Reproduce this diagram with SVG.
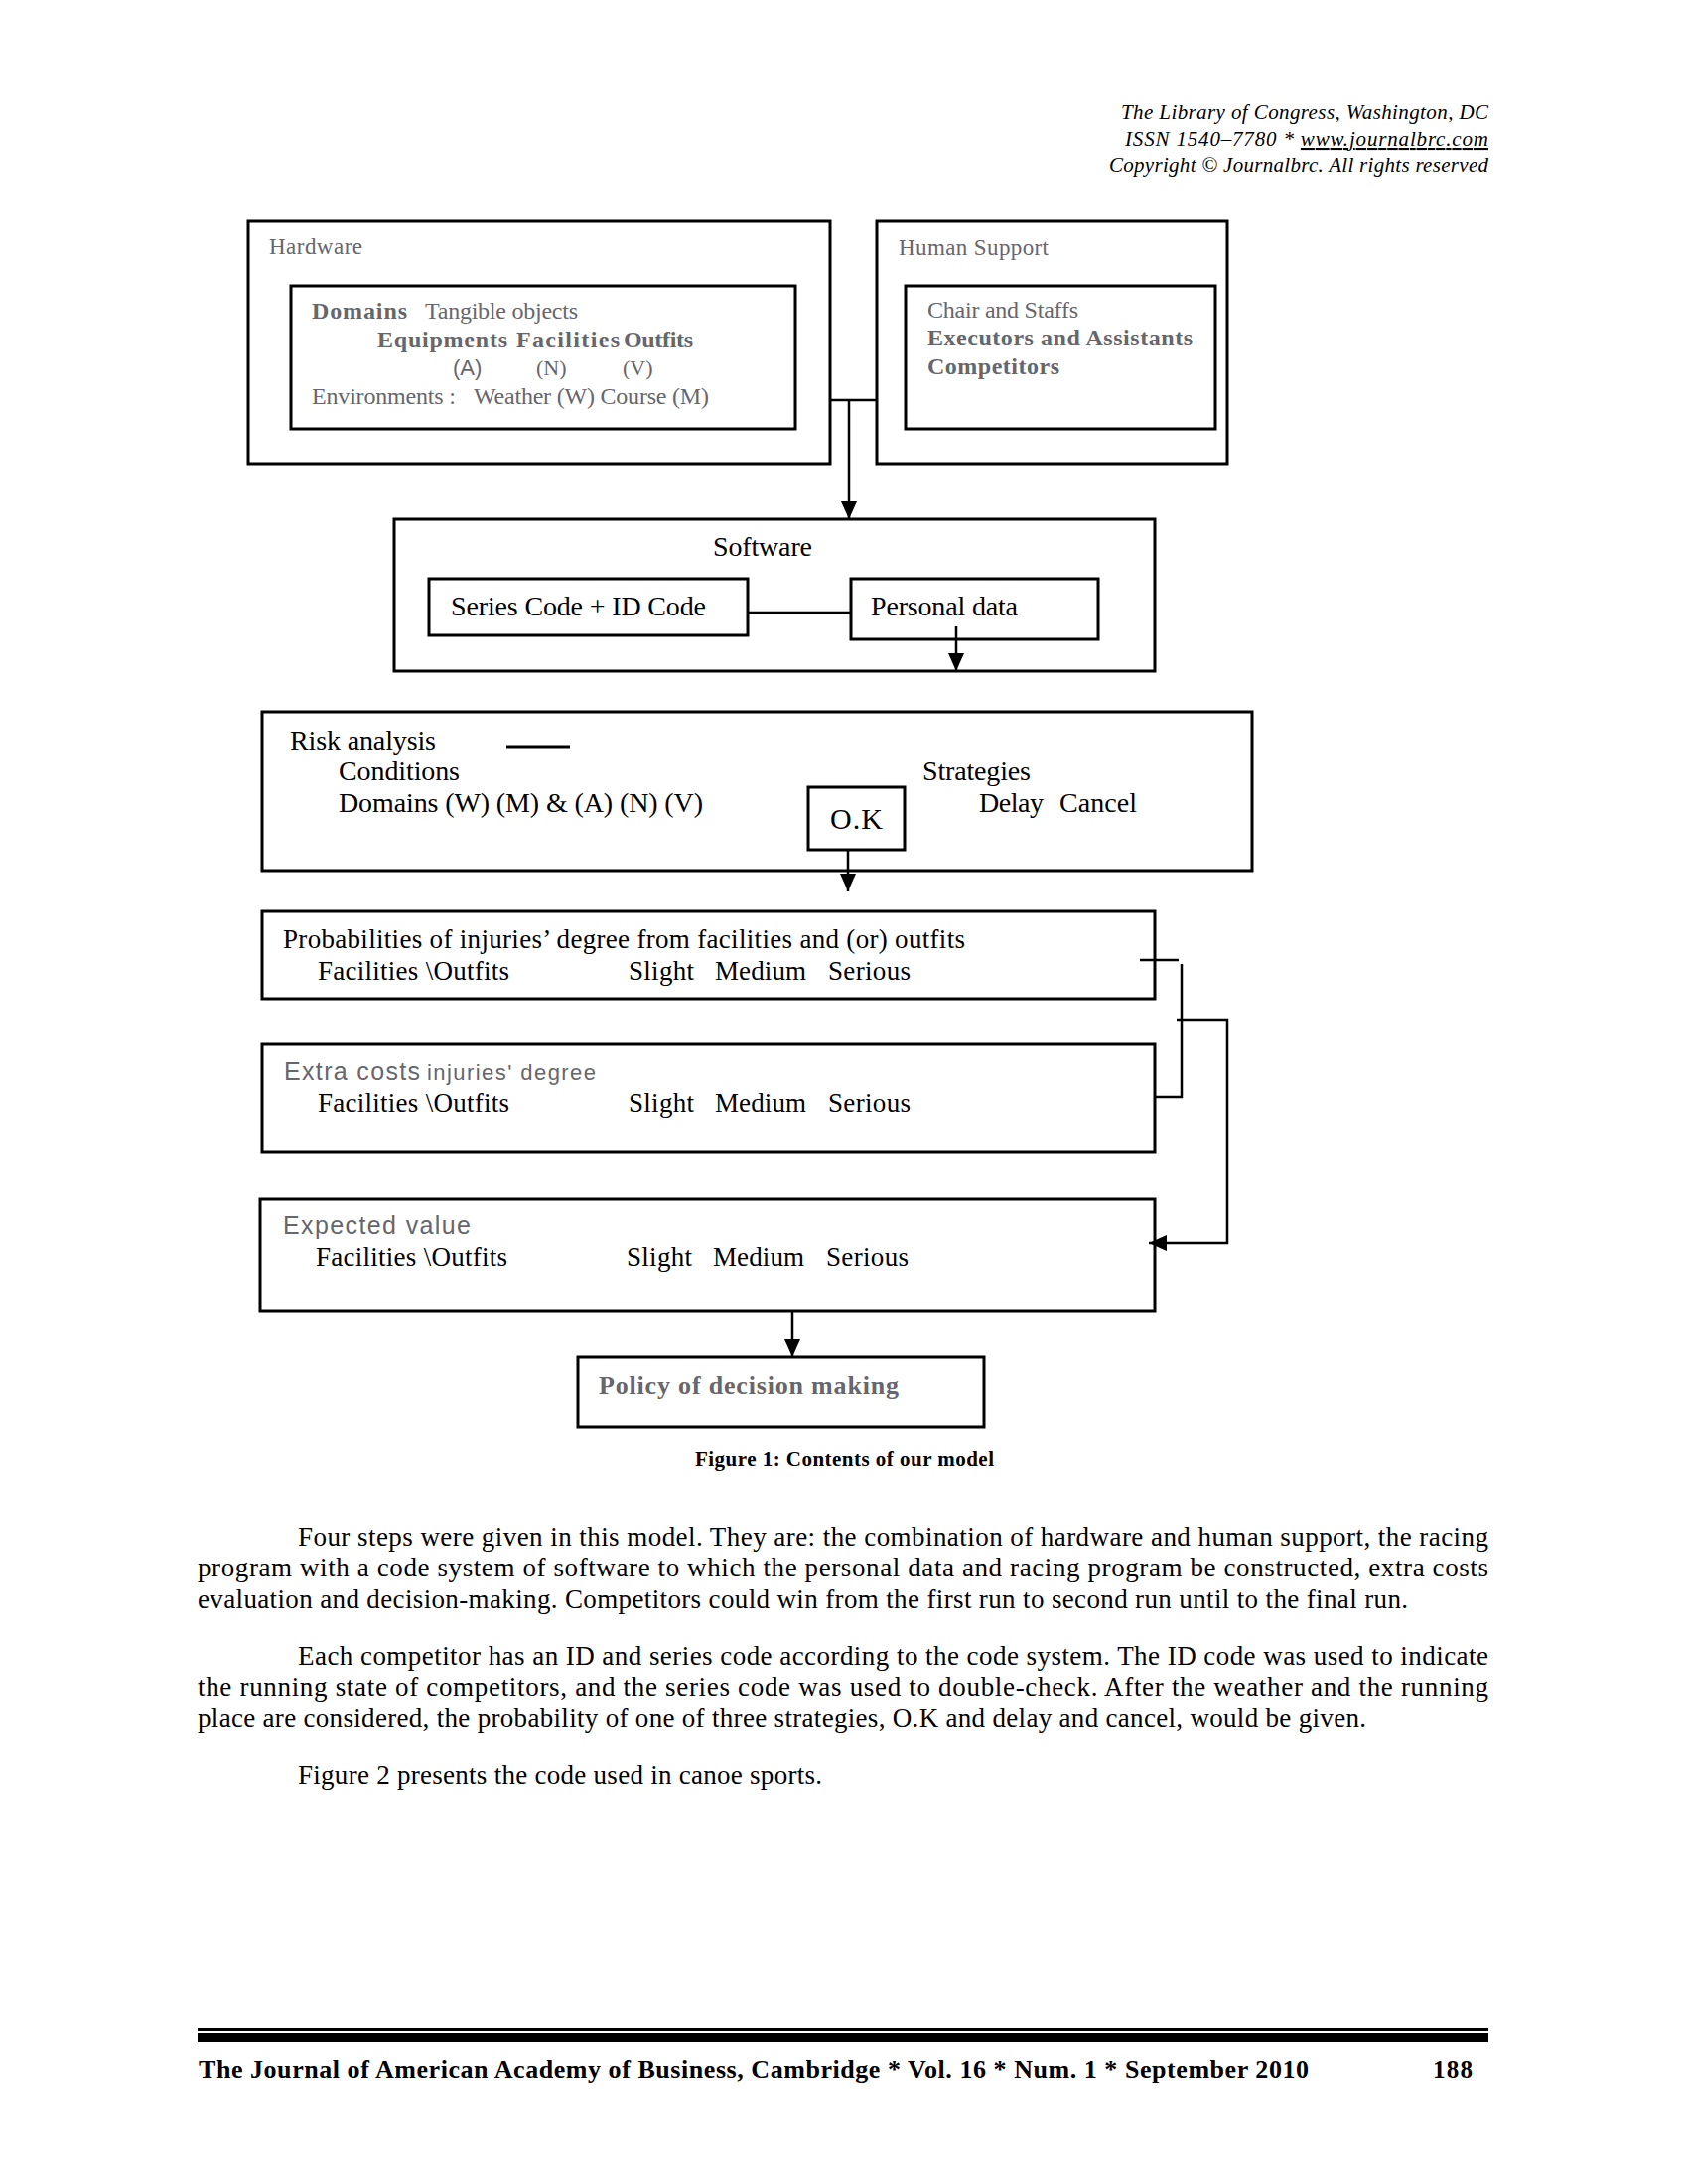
<svg xmlns="http://www.w3.org/2000/svg" width="1700" height="2200" viewBox="0 0 1700 2200">
<style>
.box{fill:none;stroke:#000;stroke-width:3}
.ibox{fill:none;stroke:#000;stroke-width:3}
.con{fill:none;stroke:#000;stroke-width:2.5}
.s{font-family:"Liberation Serif","Times New Roman",serif}
.a{font-family:"Liberation Sans",Arial,sans-serif}
.g{fill:#66666b}
.k{fill:#000}
.b{font-weight:bold}
.hdr{font-family:"Liberation Serif",serif;font-style:italic;font-size:21px;fill:#000;text-anchor:end}
.body{font-family:"Liberation Serif","Times New Roman",serif;font-size:27px;fill:#000}
</style>
<defs>
<marker id="arr" viewBox="0 0 18 18" refX="18" refY="9" markerWidth="18" markerHeight="18" markerUnits="userSpaceOnUse" orient="auto">
<path d="M0,1 L18,9 L0,17 z" fill="#000"/>
</marker>
</defs>
<rect width="1700" height="2200" fill="#fff"/>

<g id="header">
<text class="hdr" x="1499" y="120" textLength="370">The Library of Congress, Washington, DC</text>
<text class="hdr" x="1499" y="147" textLength="366">ISSN 1540–7780  *  <tspan text-decoration="underline">www.journalbrc.com</tspan></text>
<text class="hdr" x="1499" y="173" textLength="382">Copyright © Journalbrc. All rights reserved</text>
</g>

<g id="hardware">
<rect class="box" x="250" y="223" width="586" height="244"/>
<rect class="ibox" x="293" y="288" width="508" height="144"/>
<text class="s g" x="271" y="256" font-size="23" textLength="94">Hardware</text>
<text class="s g" x="314" y="321" font-size="24"><tspan class="b" textLength="96">Domains</tspan><tspan x="428" textLength="154">Tangible objects</tspan></text>
<text class="s g b" y="350" font-size="24"><tspan x="380" textLength="131">Equipments</tspan><tspan x="520" textLength="104">Facilities</tspan><tspan x="628" textLength="70">Outfits</tspan></text>
<text class="g" y="378" font-size="22"><tspan class="a" x="456">(A)</tspan><tspan class="s" x="540">(N)</tspan><tspan class="s" x="627">(V)</tspan></text>
<text class="s g" y="407" font-size="24"><tspan x="314" textLength="145">Environments :</tspan><tspan x="477" textLength="237">Weather (W) Course (M)</tspan></text>
</g>

<g id="human-support">
<rect class="box" x="883" y="223" width="353" height="244"/>
<rect class="ibox" x="912" y="288" width="312" height="144"/>
<text class="s g" x="905" y="257" font-size="23" textLength="151">Human Support</text>
<text class="s g" x="934" y="320" font-size="24" textLength="152">Chair and Staffs</text>
<text class="s g b" x="934" y="348" font-size="24" textLength="267">Executors and Assistants</text>
<text class="s g b" x="934" y="377" font-size="24" textLength="133">Competitors</text>
</g>

<g id="software">
<rect class="box" x="397" y="523" width="766" height="153"/>
<text class="s k" x="718" y="560" font-size="28" textLength="100">Software</text>
</g>
<g id="series-code">
<rect class="ibox" x="432" y="583" width="321" height="57"/>
<text class="s k" x="454" y="620" font-size="28" textLength="257">Series Code + ID Code</text>
</g>
<g id="personal-data">
<rect class="ibox" x="857" y="583" width="249" height="61"/>
<text class="s k" x="877" y="620" font-size="28" textLength="148">Personal data</text>
</g>

<g id="risk-analysis">
<rect class="box" x="264" y="717" width="997" height="160"/>
<text class="s k" x="292" y="755" font-size="28" textLength="147">Risk analysis</text>
<line x1="510" y1="752" x2="574" y2="752" stroke="#000" stroke-width="3"/>
<text class="s k" x="341" y="786" font-size="28" textLength="122">Conditions</text>
<text class="s k" x="341" y="818" font-size="28" textLength="367">Domains (W) (M) &amp; (A) (N) (V)</text>
<text class="s k" x="929" y="786" font-size="28" textLength="109">Strategies</text>
<text class="s k" y="818" font-size="28"><tspan x="986" textLength="65">Delay</tspan><tspan x="1067" textLength="78">Cancel</tspan></text>
</g>
<g id="ok">
<rect class="ibox" x="814" y="793" width="97" height="63"/>
<text class="s k" x="836" y="835" font-size="30" textLength="53">O.K</text>
</g>

<g id="probabilities">
<rect class="box" x="264" y="918" width="899" height="88"/>
<text class="s k" x="285" y="955" font-size="27" textLength="687">Probabilities of injuries’ degree from facilities and (or) outfits</text>
<text class="s k" y="987" font-size="27"><tspan x="320" textLength="193">Facilities \Outfits</tspan><tspan x="633" textLength="66">Slight</tspan><tspan x="720" textLength="92">Medium</tspan><tspan x="834" textLength="83">Serious</tspan></text>
</g>

<g id="extra-costs">
<rect class="box" x="264" y="1052" width="899" height="108"/>
<text class="a g" x="286" y="1088"><tspan font-size="25" textLength="137">Extra costs</tspan><tspan x="430" font-size="22" textLength="170">injuries' degree</tspan></text>
<text class="s k" y="1120" font-size="27"><tspan x="320" textLength="193">Facilities \Outfits</tspan><tspan x="633" textLength="66">Slight</tspan><tspan x="720" textLength="92">Medium</tspan><tspan x="834" textLength="83">Serious</tspan></text>
</g>

<g id="expected-value">
<rect class="box" x="262" y="1208" width="901" height="113"/>
<text class="a g" x="285" y="1243" font-size="25" textLength="189">Expected value</text>
<text class="s k" y="1275" font-size="27"><tspan x="318" textLength="193">Facilities \Outfits</tspan><tspan x="631" textLength="66">Slight</tspan><tspan x="718" textLength="92">Medium</tspan><tspan x="832" textLength="83">Serious</tspan></text>
</g>

<g id="policy">
<rect class="box" x="582" y="1367" width="409" height="70"/>
<text class="s g b" x="603" y="1404" font-size="26" textLength="302">Policy of decision making</text>
</g>

<g id="connectors">
<path class="con" d="M836,403 H883"/>
<path class="con" d="M855,403 V523" marker-end="url(#arr)"/>
<path class="con" d="M753,617 H857"/>
<path class="con" d="M963,631 V676" marker-end="url(#arr)"/>
<path class="con" d="M854,856 V898" marker-end="url(#arr)"/>
<path class="con" d="M1148,967 H1187"/>
<path class="con" d="M1190,971 V1105 H1163"/>
<path class="con" d="M1185,1027 H1236 V1252 H1157" marker-end="url(#arr)"/>
<path class="con" d="M798,1321 V1367" marker-end="url(#arr)"/>
</g>

<g id="caption">
<text class="s b k" x="700" y="1477" font-size="21" textLength="301">Figure 1: Contents of our model</text>
</g>

<g id="body-text">
<text class="body" x="300" y="1557" textLength="1199">Four steps were given in this model. They are: the combination of hardware and human support, the racing</text>
<text class="body" x="199" y="1588" textLength="1300">program with a code system of software to which the personal data and racing program be constructed, extra costs</text>
<text class="body" x="199" y="1620" textLength="1219">evaluation and decision-making.  Competitors could win from the first run to second run until to the final run.</text>
<text class="body" x="300" y="1677" textLength="1199">Each competitor has an ID and series code according to the code system. The ID code was used to indicate</text>
<text class="body" x="199" y="1708" textLength="1300">the running state of competitors, and the series code was used to double-check. After the weather and the running</text>
<text class="body" x="199" y="1740" textLength="1177">place are considered, the probability of one of three strategies, O.K and delay and cancel, would be given.</text>
<text class="body" x="300" y="1797" textLength="528">Figure 2 presents the code used in canoe sports.</text>
</g>

<g id="footer">
<rect x="199" y="2043" width="1300" height="3" fill="#000"/>
<rect x="199" y="2048" width="1300" height="9" fill="#000"/>
<text class="s b k" x="200" y="2093" font-size="26" textLength="1118">The Journal of American Academy of Business, Cambridge  * Vol. 16 * Num. 1 * September  2010</text>
<text class="s b k" x="1443" y="2093" font-size="25" textLength="40">188</text>
</g>
</svg>
